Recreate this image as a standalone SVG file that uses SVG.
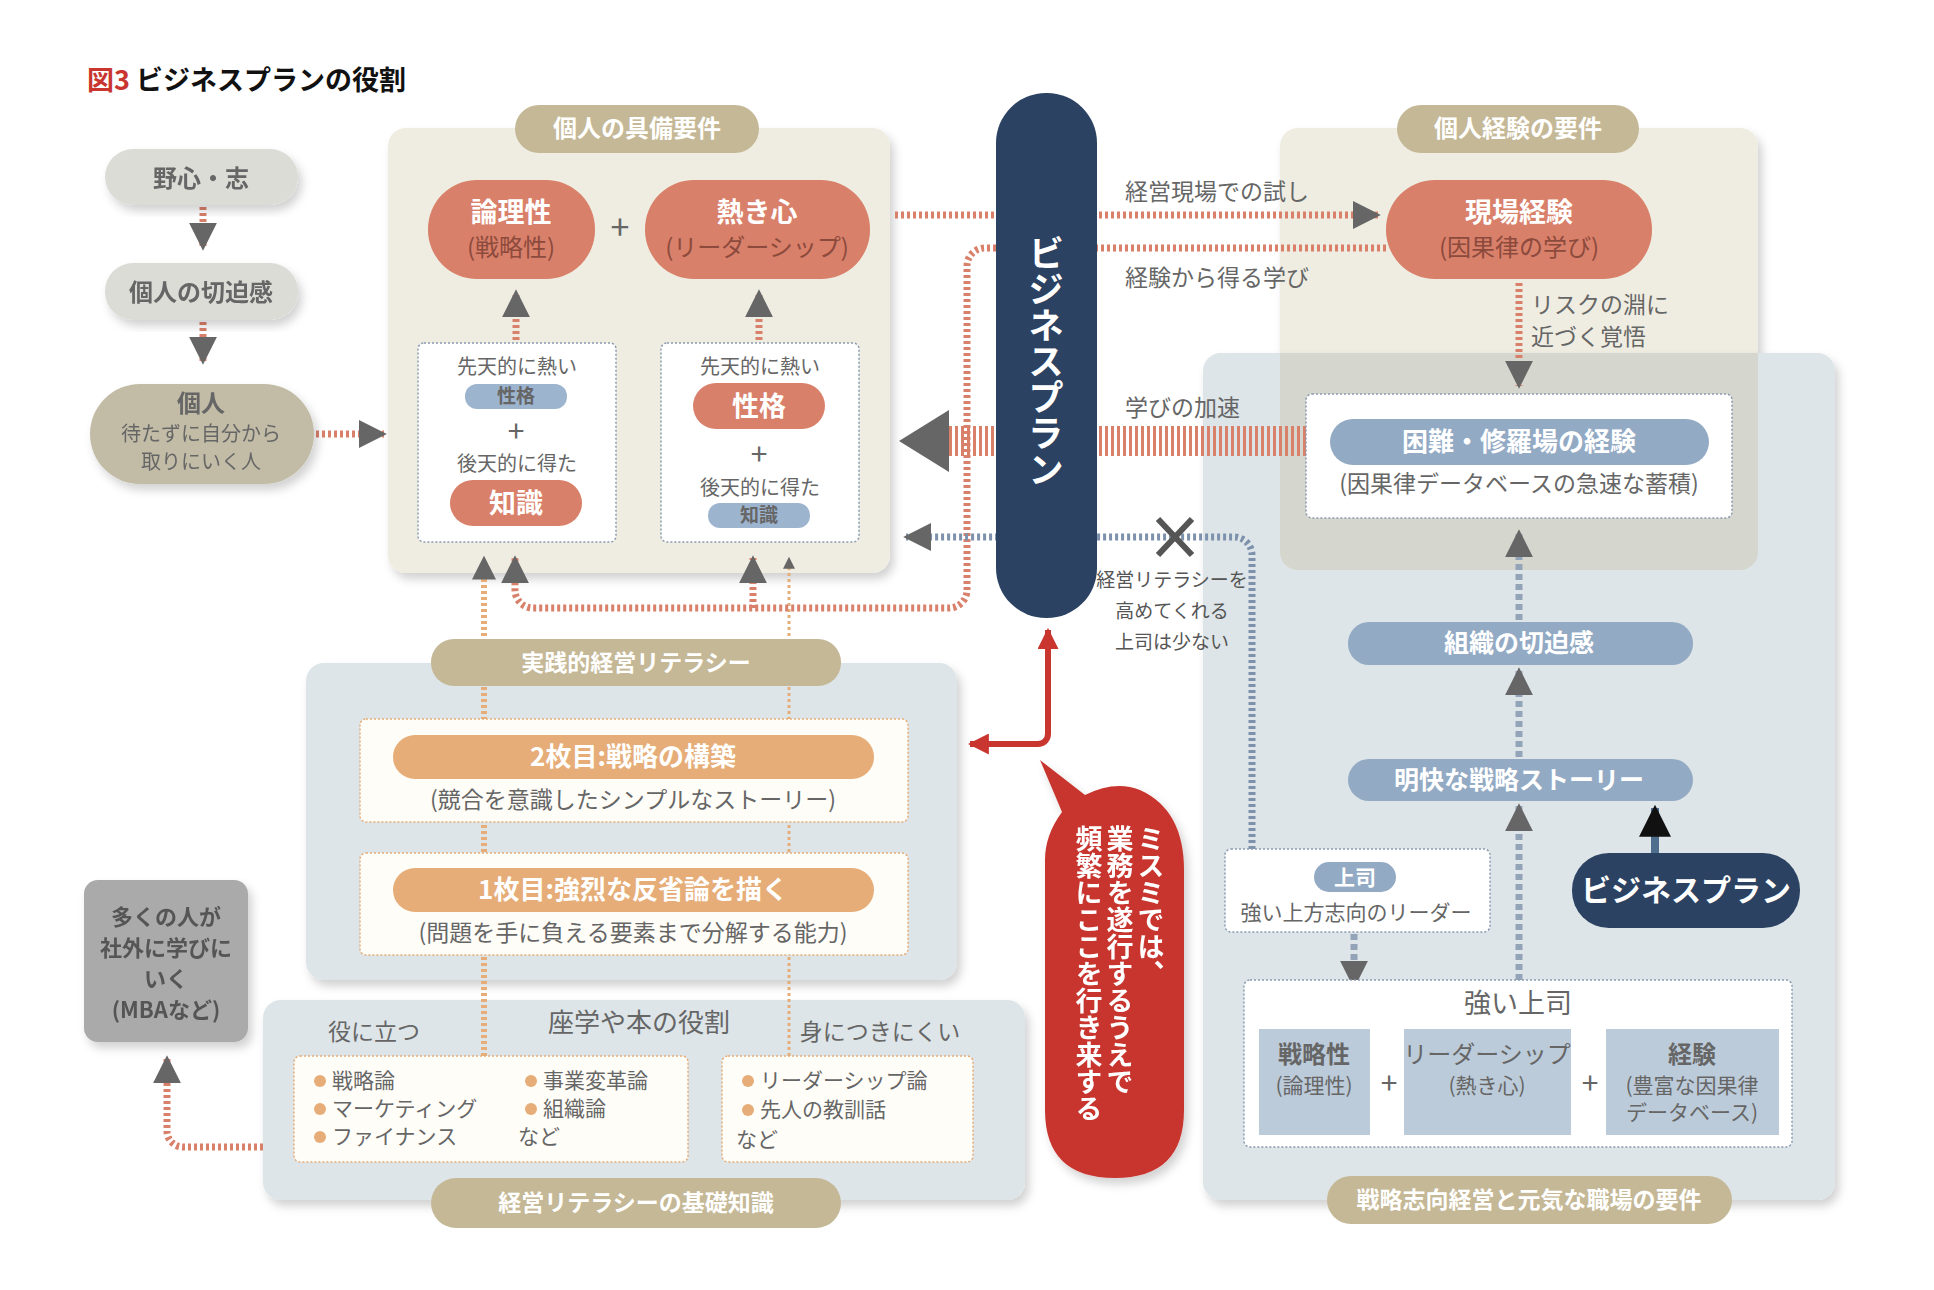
<svg xmlns="http://www.w3.org/2000/svg" width="1934" height="1290" viewBox="0 0 1934 1290">
<defs>
<filter id="sh" x="-10%" y="-10%" width="130%" height="130%"><feDropShadow dx="4" dy="6" stdDeviation="5" flood-color="#000" flood-opacity="0.18"/></filter>
<marker id="ag" viewBox="0 0 10 10" refX="9" refY="5" markerWidth="4" markerHeight="4" orient="auto-start-reverse"><path d="M0,0 L10,5 L0,10 z" fill="#666"/></marker>
<marker id="ak" viewBox="0 0 10 10" refX="9" refY="5" markerWidth="4" markerHeight="4" orient="auto"><path d="M0,0 L10,5 L0,10 z" fill="#111"/></marker>
<marker id="ar" viewBox="0 0 10 10" refX="9" refY="5" markerWidth="3.5" markerHeight="3.5" orient="auto"><path d="M0,0 L10,5 L0,10 z" fill="#c8362f"/></marker>
</defs>
<style>
text{font-family:"Noto Sans CJK JP","Noto Sans",sans-serif;text-anchor:middle}
.hd{fill:#fff;font-size:24px;font-weight:bold}
.w{fill:#fff;font-weight:bold}
.g{fill:#666}
.s{text-anchor:start}
.dr{fill:none;stroke:#d9806a;stroke-width:7;stroke-dasharray:3 3}
.do{fill:none;stroke:#e6ad78;stroke-width:6;stroke-dasharray:3 3}
.db{fill:none;stroke:#7d91ac;stroke-width:7;stroke-dasharray:3 3}
.dbs{fill:none;stroke:#93a3b8;stroke-width:7;stroke-dasharray:6 4}
.box{fill:#fff;stroke:#8a9ab0;stroke-width:1.5;stroke-dasharray:2 2}
.boxo{fill:#fffdf8;stroke:#e6ad78;stroke-width:1.5;stroke-dasharray:2 2}
</style>
<text x="87" y="90" style="text-anchor:start;font-size:27px;font-weight:bold" fill="#111"><tspan fill="#c8362f">図3</tspan> ビジネスプランの役割</text>

<g id="panel-left" filter="url(#sh)"><rect x="388" y="128" width="502" height="445" rx="18" fill="#efede2"/></g>
<g id="panel-right-top" filter="url(#sh)"><rect x="1280" y="128" width="478" height="442" rx="18" fill="#efede2"/></g>
<g id="panel-right" filter="url(#sh)"><rect x="1203" y="353" width="632" height="847" rx="18" fill="#dde5e8"/></g>
<path d="M1280,353 H1758 V552 a18,18 0 0 1 -18,18 H1298 a18,18 0 0 1 -18,-18 Z" fill="#d5d6cd"/>
<g id="panel-lit" filter="url(#sh)"><rect x="306" y="663" width="651" height="317" rx="18" fill="#dde5e8"/></g>
<g id="panel-base" filter="url(#sh)"><rect x="263" y="1000" width="762" height="200" rx="18" fill="#dde5e8"/></g>

<g id="connectors">
<line class="dr" x1="203" y1="207" x2="203" y2="248" marker-end="url(#ag)"/>
<line class="dr" x1="203" y1="322" x2="203" y2="362" marker-end="url(#ag)"/>
<line class="dr" x1="316" y1="434" x2="384" y2="434" marker-end="url(#ag)"/>
<line class="dr" x1="516" y1="340" x2="516" y2="292" marker-end="url(#ag)"/>
<line class="dr" x1="759" y1="340" x2="759" y2="292" marker-end="url(#ag)"/>
<line class="do" x1="484" y1="1056" x2="484" y2="558" marker-end="url(#ag)"/>
<line class="do" x1="789" y1="1056" x2="789" y2="558" style="stroke-width:3" marker-end="url(#ag)"/>
<path class="dr" d="M1386,248 H985 a18,18 0 0 0 -18,18 V590 a18,18 0 0 1 -18,18 H533 a18,18 0 0 1 -18,-18 V558" marker-end="url(#ag)"/>
<line class="dr" x1="753" y1="608" x2="753" y2="558" marker-end="url(#ag)"/>
<line class="dr" x1="895" y1="215" x2="1378" y2="215" marker-end="url(#ag)"/>
<line stroke="#d9806a" stroke-width="30" stroke-dasharray="3 3" x1="949" y1="441" x2="1333" y2="441"/>
<polygon points="899,441 949,410 949,472" fill="#666"/>
<path class="db" d="M1252,849 V555 a18,18 0 0 0 -18,-18 H906" marker-end="url(#ag)"/>
<path d="M1158,519 L1192,555 M1192,519 L1158,555" stroke="#555" stroke-width="6"/>
<line class="dr" x1="1519" y1="283" x2="1519" y2="386" marker-end="url(#ag)"/>
<line class="dbs" x1="1519" y1="620" x2="1519" y2="532" marker-end="url(#ag)"/>
<line class="dbs" x1="1519" y1="757" x2="1519" y2="670" marker-end="url(#ag)"/>
<line class="dbs" x1="1519" y1="980" x2="1519" y2="806" marker-end="url(#ag)"/>
<line class="dbs" x1="1354" y1="934" x2="1354" y2="986" marker-end="url(#ag)"/>
<line stroke="#4f6d8c" stroke-width="8" x1="1655" y1="853" x2="1655" y2="808" marker-end="url(#ak)"/>
<path d="M1048,634 V734 a10,10 0 0 1 -10,10 H970" fill="none" stroke="#c8362f" stroke-width="6" marker-end="url(#ar)"/>
<line x1="1048" y1="654" x2="1048" y2="630" stroke="#c8362f" stroke-width="6" marker-end="url(#ar)"/>
<path class="dr" d="M263,1147 H183 a16,16 0 0 1 -16,-16 V1058" marker-end="url(#ag)"/>
</g>

<g id="n-yashin" filter="url(#sh)"><rect x="105" y="149" width="193" height="56" rx="28" fill="#dcdcd7"/><text x="201" y="187" class="g" font-size="24" font-weight="bold">野心・志</text></g>
<g id="n-seppaku" filter="url(#sh)"><rect x="105" y="263" width="193" height="57" rx="28" fill="#dcdcd7"/><text x="201" y="301" class="g" font-size="24" font-weight="bold">個人の切迫感</text></g>
<g id="n-kojin" filter="url(#sh)"><rect x="90" y="384" width="224" height="100" rx="50" fill="#c2bca7"/><text x="201" y="412" class="g" font-size="24" font-weight="bold">個人</text><text x="201" y="441" class="g" font-size="20">待たずに自分から</text><text x="201" y="469" class="g" font-size="20">取りにいく人</text></g>

<g id="h-gubi"><rect x="515" y="105" width="244" height="48" rx="24" fill="#c5b896"/><text x="637" y="137" class="hd">個人の具備要件</text></g>
<g id="n-ronri"><rect x="428" y="180" width="167" height="99" rx="49" fill="#d9806a"/><text x="511" y="222" class="w" font-size="27">論理性</text><text x="511" y="256" fill="#8c4a3c" font-size="24">(戦略性)</text></g>
<text x="620" y="240" fill="#666" font-size="34">+</text>
<g id="n-atsuki"><rect x="645" y="180" width="225" height="99" rx="49" fill="#d9806a"/><text x="757" y="222" class="w" font-size="27">熱き心</text><text x="757" y="256" fill="#8c4a3c" font-size="24">(リーダーシップ)</text></g>
<g id="n-box1"><rect class="box" x="418" y="343" width="198" height="199" rx="6"/>
<text x="517" y="374" class="g" font-size="20">先天的に熱い</text>
<rect x="465" y="384" width="102" height="25" rx="12" fill="#9db4cf"/><text x="516" y="403" class="g" font-size="19" font-weight="bold">性格</text>
<text x="516" y="442" class="g" font-size="30">+</text>
<text x="517" y="471" class="g" font-size="20">後天的に得た</text>
<rect x="450" y="480" width="132" height="46" rx="23" fill="#d9806a"/><text x="516" y="513" class="w" font-size="27">知識</text></g>
<g id="n-box2"><rect class="box" x="661" y="343" width="198" height="199" rx="6"/>
<text x="760" y="374" class="g" font-size="20">先天的に熱い</text>
<rect x="693" y="383" width="132" height="46" rx="23" fill="#d9806a"/><text x="759" y="416" class="w" font-size="27">性格</text>
<text x="759" y="465" class="g" font-size="30">+</text>
<text x="760" y="495" class="g" font-size="20">後天的に得た</text>
<rect x="708" y="503" width="102" height="25" rx="12" fill="#9db4cf"/><text x="759" y="522" class="g" font-size="19" font-weight="bold">知識</text></g>

<g id="n-bp-pillar"><rect x="996" y="93" width="101" height="525" rx="50" fill="#2b4262"/><text x="1046" y="235" class="w" font-size="36" style="writing-mode:vertical-rl;text-anchor:start">ビジネスプラン</text></g>

<text x="1125" y="200" class="g s" font-size="23">経営現場での試し</text>
<text x="1125" y="286" class="g s" font-size="23">経験から得る学び</text>
<text x="1125" y="416" class="g s" font-size="23">学びの加速</text>
<text x="1172" y="587" fill="#555" font-size="19">経営リテラシーを</text>
<text x="1172" y="618" fill="#555" font-size="19">高めてくれる</text>
<text x="1172" y="649" fill="#555" font-size="19">上司は少ない</text>
<text x="1531" y="313" class="g s" font-size="23">リスクの淵に</text>
<text x="1531" y="345" class="g s" font-size="23">近づく覚悟</text>

<g id="h-keiken"><rect x="1397" y="105" width="242" height="48" rx="24" fill="#c5b896"/><text x="1518" y="137" class="hd">個人経験の要件</text></g>
<g id="n-genba"><rect x="1386" y="180" width="266" height="99" rx="49" fill="#d9806a"/><text x="1519" y="222" class="w" font-size="27">現場経験</text><text x="1519" y="256" fill="#8c4a3c" font-size="24">(因果律の学び)</text></g>
<g id="n-konnan"><rect class="box" x="1306" y="394" width="426" height="124" rx="6"/><rect x="1330" y="419" width="379" height="46" rx="23" fill="#93aac4"/><text x="1519" y="451" class="w" font-size="26">困難・修羅場の経験</text><text x="1519" y="492" class="g" font-size="23">(因果律データベースの急速な蓄積)</text></g>
<g id="n-soshiki"><rect x="1348" y="622" width="345" height="43" rx="21" fill="#93aac4"/><text x="1519" y="652" class="w" font-size="25">組織の切迫感</text></g>
<g id="n-meikai"><rect x="1348" y="759" width="345" height="42" rx="21" fill="#93aac4"/><text x="1519" y="789" class="w" font-size="25">明快な戦略ストーリー</text></g>
<g id="n-bp2"><rect x="1572" y="853" width="228" height="75" rx="37" fill="#2b4262"/><text x="1686" y="901" class="w" font-size="30">ビジネスプラン</text></g>
<g id="n-joshi"><rect class="box" x="1225" y="849" width="265" height="83" rx="6"/><rect x="1314" y="862" width="82" height="30" rx="15" fill="#93aac4"/><text x="1355" y="885" class="w" font-size="21">上司</text><text x="1356" y="920" class="g" font-size="21">強い上方志向のリーダー</text></g>
<g id="n-tsuyoi"><rect class="box" x="1244" y="980" width="548" height="167" rx="6"/><text x="1518" y="1013" class="g" font-size="27">強い上司</text>
<rect x="1259" y="1029" width="111" height="106" fill="#bccbd9"/><text x="1314" y="1063" class="g" font-size="24" font-weight="bold">戦略性</text><text x="1314" y="1093" class="g" font-size="21">(論理性)</text>
<text x="1389" y="1094" class="g" font-size="30">+</text>
<rect x="1404" y="1029" width="167" height="106" fill="#bccbd9"/><text x="1487" y="1063" class="g" font-size="24">リーダーシップ</text><text x="1487" y="1093" class="g" font-size="21">(熱き心)</text>
<text x="1590" y="1094" class="g" font-size="30">+</text>
<rect x="1606" y="1029" width="173" height="106" fill="#bccbd9"/><text x="1692" y="1063" class="g" font-size="24" font-weight="bold">経験</text><text x="1692" y="1093" class="g" font-size="21">(豊富な因果律</text><text x="1692" y="1120" class="g" font-size="21">データベース)</text></g>
<g id="h-senryaku"><rect x="1327" y="1176" width="405" height="48" rx="24" fill="#c5b896"/><text x="1529" y="1208" class="w" font-size="23">戦略志向経営と元気な職場の要件</text></g>

<g id="n-bubble" filter="url(#sh)"><path d="M1040,760 L1085,795 Q1115,780 1140,790 Q1184,810 1184,870 V1110 Q1184,1178 1115,1178 Q1045,1178 1045,1110 V860 Q1045,835 1062,812 Z" fill="#c8362f"/>
<text x="1151" y="825" class="w" font-size="27" style="writing-mode:vertical-rl;text-anchor:start">ミスミでは、</text>
<text x="1120" y="825" class="w" font-size="27" style="writing-mode:vertical-rl;text-anchor:start">業務を遂行するうえで</text>
<text x="1089" y="825" class="w" font-size="27" style="writing-mode:vertical-rl;text-anchor:start">頻繁にここを行き来する</text></g>

<g id="h-jissen"><rect x="431" y="639" width="410" height="47" rx="23" fill="#c5b896"/><text x="636" y="671" class="w" font-size="23">実践的経営リテラシー</text></g>
<g id="n-2mai"><rect class="boxo" x="360" y="719" width="548" height="103" rx="6"/><rect x="393" y="735" width="481" height="44" rx="22" fill="#e6ad78"/><text x="633" y="766" class="w" font-size="26">2枚目:戦略の構築</text><text x="633" y="808" class="g" font-size="23">(競合を意識したシンプルなストーリー)</text></g>
<g id="n-1mai"><rect class="boxo" x="360" y="853" width="548" height="102" rx="6"/><rect x="393" y="868" width="481" height="44" rx="22" fill="#e6ad78"/><text x="633" y="899" class="w" font-size="26">1枚目:強烈な反省論を描く</text><text x="633" y="941" class="g" font-size="23">(問題を手に負える要素まで分解する能力)</text></g>

<text x="374" y="1040" class="g" font-size="23">役に立つ</text>
<text x="639" y="1032" class="g" font-size="26">座学や本の役割</text>
<text x="880" y="1040" class="g" font-size="23">身につきにくい</text>
<g id="n-useful"><rect class="boxo" x="294" y="1056" width="394" height="106" rx="6"/>
<g fill="#e6ad78"><circle cx="320" cy="1081" r="6"/><circle cx="320" cy="1109" r="6"/><circle cx="320" cy="1137" r="6"/><circle cx="531" cy="1081" r="6"/><circle cx="531" cy="1109" r="6"/></g>
<text x="332" y="1088" class="g s" font-size="21">戦略論</text><text x="332" y="1116" class="g s" font-size="21">マーケティング</text><text x="332" y="1144" class="g s" font-size="21">ファイナンス</text><text x="543" y="1088" class="g s" font-size="21">事業変革論</text><text x="543" y="1116" class="g s" font-size="21">組織論</text><text x="518" y="1144" class="g s" font-size="21">など</text></g>
<g id="n-hard"><rect class="boxo" x="722" y="1056" width="251" height="106" rx="6"/>
<g fill="#e6ad78"><circle cx="748" cy="1081" r="6"/><circle cx="748" cy="1110" r="6"/></g>
<text x="760" y="1088" class="g s" font-size="21">リーダーシップ論</text><text x="760" y="1117" class="g s" font-size="21">先人の教訓話</text><text x="736" y="1147" class="g s" font-size="21">など</text></g>
<g id="h-kiso"><rect x="431" y="1178" width="410" height="50" rx="25" fill="#c5b896"/><text x="636" y="1211" class="w" font-size="23">経営リテラシーの基礎知識</text></g>
<g id="n-mba" filter="url(#sh)"><rect x="84" y="880" width="164" height="162" rx="14" fill="#aaaaaa"/>
<text x="166" y="925" fill="#555" font-size="22" font-weight="bold">多くの人が</text><text x="166" y="956" fill="#555" font-size="22" font-weight="bold">社外に学びに</text><text x="166" y="987" fill="#555" font-size="22" font-weight="bold">いく</text><text x="166" y="1018" fill="#555" font-size="22" font-weight="bold">(MBAなど)</text></g>
</svg>
